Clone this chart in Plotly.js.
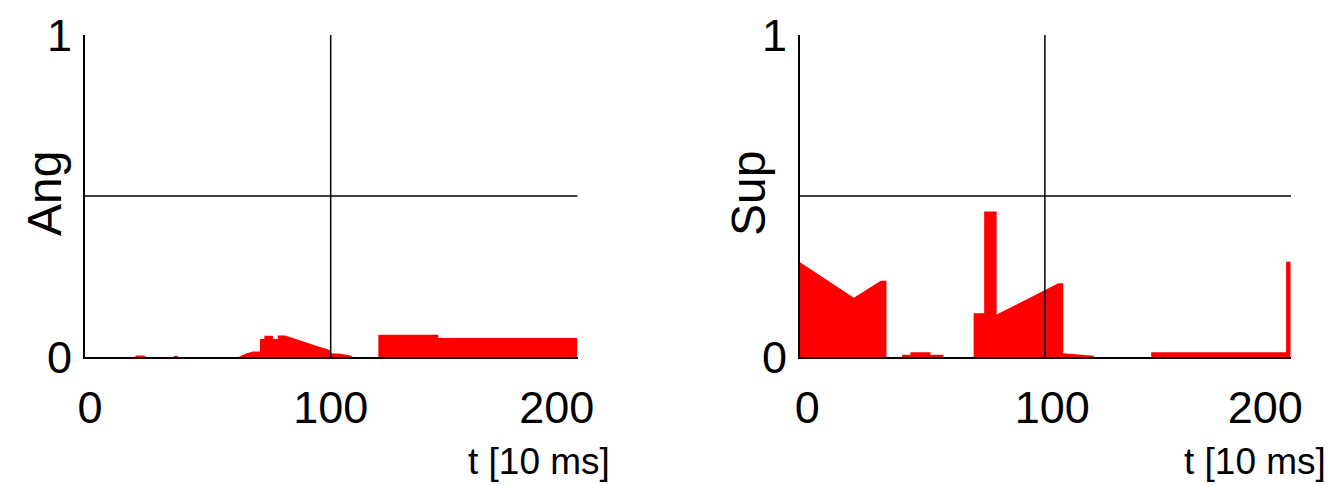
<!DOCTYPE html>
<html>
<head>
<meta charset="utf-8">
<script src="https://cdn.plot.ly/plotly-3.0.1.min.js"></script>
<style>html,body{margin:0;padding:0;background:#fff;}#chart{width:1333px;height:485px;}</style>
</head>
<body>
<div id="chart"></div>
<script>
// ---- data (vertices of the filled step profiles) ----
const angT = [0, 20, 21, 24, 25, 36, 36.5, 37.5, 38, 62.4, 65.8, 68.5, 71.2, 71.2, 73, 73, 76.5, 76.5, 78.5, 78.5, 81.5, 84.8, 87.5, 90.2, 92.9, 95.6, 98.4, 100, 100, 104, 108, 109, 119.4, 119.4, 143.8, 143.8, 200.4, 200.4];
const angV = [0, 0, 0.005, 0.005, 0, 0, 0.004, 0.004, 0, 0, 0.012, 0.017, 0.017, 0.056, 0.056, 0.066, 0.066, 0.056, 0.056, 0.067, 0.067, 0.058, 0.051, 0.045, 0.038, 0.031, 0.025, 0.02, 0.012, 0.01, 0.005, 0, 0, 0.069, 0.069, 0.059, 0.059, 0];

const supT = [0, 0, 22, 33, 35.3, 35.3, 41.7, 41.7, 45.1, 45.1, 53.3, 53.3, 58.6, 58.6, 70.9, 70.9, 75.2, 75.2, 80.3, 80.3, 105.5, 107.5, 107.5, 114, 120, 120, 143.4, 143.4, 198.5, 198.5, 200.3, 200.3];
const supV = [0, 0.294, 0.184, 0.237, 0.237, 0, 0, 0.007, 0.007, 0.015, 0.015, 0.007, 0.007, 0, 0, 0.136, 0.136, 0.452, 0.452, 0.132, 0.229, 0.229, 0.012, 0.008, 0.004, 0, 0, 0.015, 0.015, 0.296, 0.296, 0];

const xTickValsAng = [2, 100, 192];
const xTickValsSup = [3, 103, 190];
const xTickText = ['0', '100', '200'];
const yTickVals = [0, 1];
const yTickText = ['0', '1'];
const markerT = [100];      // vertical reference line
const levelV = [0.5];       // horizontal reference line
const xRange = [0, 200.5];
const yTitles = ['Ang', 'Sup'];
const xTitle = 't [10 ms]';

// ---- layout ----
const W = 1333, H = 485;
const FONT = 'Liberation Sans, Arial, Helvetica, sans-serif';
const red = '#ff0000';

const traces = [
  {x: angT, y: angV, xaxis: 'x', yaxis: 'y', type: 'scatter', mode: 'lines', fill: 'tozeroy', fillcolor: red, line: {color: red, width: 0}, hoverinfo: 'skip'},
  {x: supT, y: supV, xaxis: 'x2', yaxis: 'y2', type: 'scatter', mode: 'lines', fill: 'tozeroy', fillcolor: red, line: {color: red, width: 0}, hoverinfo: 'skip'}
];

const yDom = [(H - 357) / H, (H - 35) / H];
function xa(dom, anchor, tv) {
  return {domain: dom, anchor: anchor, range: xRange, showgrid: false, zeroline: false,
    showline: true, linecolor: '#000', linewidth: 2, ticks: '', tickvals: tv, ticktext: xTickText,
    tickfont: {family: FONT, size: 45, color: '#000'}, ticklabelstandoff: 10, fixedrange: true};
}
function ya(dom, anchor) {
  return {domain: dom, anchor: anchor, range: [0, 1], showgrid: false, zeroline: false,
    showline: true, linecolor: '#000', linewidth: 2, ticks: '', tickvals: yTickVals, ticktext: yTickText,
    tickfont: {family: FONT, size: 45, color: '#000'}, ticklabelstandoff: 2, fixedrange: true};
}

const shapes = [];
[['x', 'y'], ['x2', 'y2']].forEach(([xr, yr]) => {
  markerT.forEach(t => shapes.push({type: 'line', xref: xr, yref: yr, x0: t, x1: t, y0: 0, y1: 1, line: {color: '#000', width: 1.5}}));
  levelV.forEach(v => shapes.push({type: 'line', xref: xr, yref: yr, x0: xRange[0], x1: xRange[1], y0: v, y1: v, line: {color: '#000', width: 1.5}}));
});

const annotations = [
  {text: yTitles[0], xref: 'paper', yref: 'paper', x: 44 / W, y: (H - 194) / H, xanchor: 'center', yanchor: 'middle', textangle: -90, showarrow: false, font: {family: FONT, size: 48, color: '#000'}},
  {text: yTitles[1], xref: 'paper', yref: 'paper', x: 748 / W, y: (H - 194) / H, xanchor: 'center', yanchor: 'middle', textangle: -90, showarrow: false, font: {family: FONT, size: 48, color: '#000'}},
  {text: xTitle, xref: 'paper', yref: 'paper', x: 612 / W, y: (H - 461) / H, xanchor: 'right', yanchor: 'middle', showarrow: false, font: {family: FONT, size: 37, color: '#000'}},
  {text: xTitle, xref: 'paper', yref: 'paper', x: 1328 / W, y: (H - 461) / H, xanchor: 'right', yanchor: 'middle', showarrow: false, font: {family: FONT, size: 37, color: '#000'}}
];

const layout = {
  width: W, height: H, margin: {l: 0, r: 0, t: 0, b: 0},
  paper_bgcolor: '#fff', plot_bgcolor: 'rgba(0,0,0,0)', showlegend: false,
  xaxis: xa([85 / W, 577.6 / W], 'y', xTickValsAng),
  yaxis: ya(yDom, 'x'),
  xaxis2: xa([800 / W, 1291 / W], 'y2', xTickValsSup),
  yaxis2: ya(yDom, 'x2'),
  shapes: shapes, annotations: annotations
};

Plotly.newPlot('chart', traces, layout, {staticPlot: true, displayModeBar: false});
</script>
</body>
</html>
